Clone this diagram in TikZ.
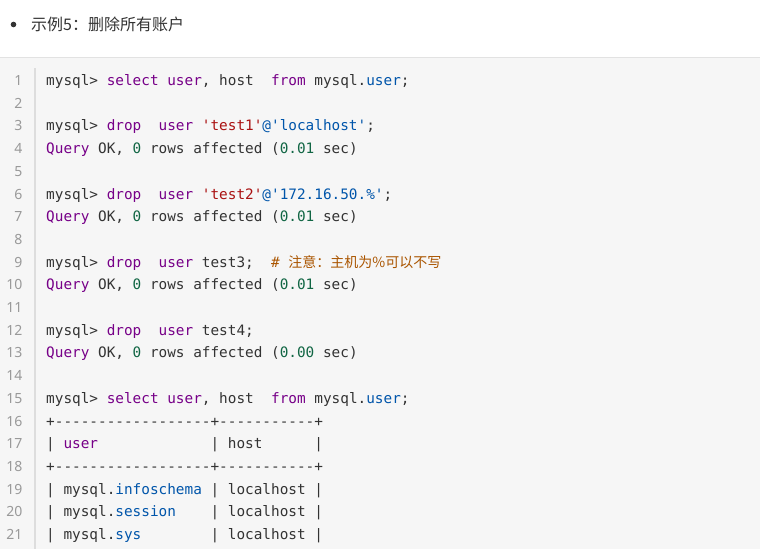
\documentclass[tikz,border=0pt]{standalone}
\usepackage{fontspec}
\setmonofont{DejaVu Sans Mono}
\newfontfamily\cjkfont{Noto Sans CJK SC}
\newfontfamily\lnfont{Noto Sans}
\definecolor{txt}{HTML}{333333}
\definecolor{kw}{HTML}{770088}
\definecolor{strc}{HTML}{AA1111}
\definecolor{varc}{HTML}{0055AA}
\definecolor{numc}{HTML}{116644}
\definecolor{cmtc}{HTML}{AA5500}
\definecolor{lnc}{HTML}{999999}
\definecolor{bgc}{HTML}{F6F6F6}
\definecolor{rulec}{HTML}{E2E2E2}
\definecolor{gutc}{HTML}{DDDDDD}
\newlength\cw
\setlength\cw{8.652pt}
\newcommand\sps[1]{\hspace*{#1\cw}}
\newcommand\kwd[1]{\textcolor{kw}{#1}}
\newcommand\strg[1]{\textcolor{strc}{#1}}
\newcommand\vtx[1]{\textcolor{varc}{#1}}
\newcommand\numb[1]{\textcolor{numc}{#1}}
\newcommand\cmnt[1]{\textcolor{cmtc}{#1}}
\newcommand\okline[1]{\kwd{Query}\sps{1}OK,\sps{1}\numb{0}\sps{1}rows\sps{1}affected\sps{1}(\numb{#1}\sps{1}sec)}
\tikzset{
  codeline/.style={anchor=base west, inner sep=0pt, text=txt,
    font=\fontsize{14.37}{17}\selectfont\ttfamily\frenchspacing},
  lnum/.style={anchor=base east, inner sep=0pt, text=lnc,
    font=\fontsize{14}{16}\selectfont\lnfont},
  headline/.style={anchor=base west, inner sep=0pt, text=txt,
    font=\fontsize{16}{19}\selectfont\cjkfont}
}
\begin{document}
\begin{tikzpicture}[x=1pt,y=-1pt]
\useasboundingbox (0,0) rectangle (760,549);
\fill[white] (0,0) rectangle (760,57);
\fill[bgc] (0,57) rectangle (760,549);
\draw[rulec, line width=1pt] (0,57) -- (760,57);
\draw[gutc, line width=1.5pt] (35,68) -- (35,549);
% heading
\fill[txt] (13.5,24.5) circle (2.8);
\node[headline] (head) at (31,30.5) {示例5：删除所有账户};
% line numbers
\foreach \n in {1,...,21}
  \node[lnum] (n\n) at (22.7,{85.5+(\n-1)*22.7}) {\n};
% code
\node[codeline] (l1) at (46,85.5) {mysql>\sps{1}\kwd{select}\sps{1}\kwd{user},\sps{1}host\sps{2}\kwd{from}\sps{1}mysql.\vtx{user};};
\node[codeline] (l3) at (46,130.9) {mysql>\sps{1}\kwd{drop}\sps{2}\kwd{user}\sps{1}\strg{'test1'}\vtx{@'localhost'};};
\node[codeline] (l4) at (46,153.6) {\okline{0.01}};
\node[codeline] (l6) at (46,199) {mysql>\sps{1}\kwd{drop}\sps{2}\kwd{user}\sps{1}\strg{'test2'}\vtx{@'172.16.50.\%'};};
\node[codeline] (l7) at (46,221.7) {\okline{0.01}};
\node[codeline] (l9) at (46,267.1) {mysql>\sps{1}\kwd{drop}\sps{2}\kwd{user}\sps{1}test3;\sps{2}\cmnt{\#\sps{1}{\fontsize{14}{17}\selectfont\cjkfont 注意：主机为\%可以不写}}};
\node[codeline] (l10) at (46,289.8) {\okline{0.01}};
\node[codeline] (l12) at (46,335.2) {mysql>\sps{1}\kwd{drop}\sps{2}\kwd{user}\sps{1}test4;};
\node[codeline] (l13) at (46,357.9) {\okline{0.00}};
\node[codeline] (l15) at (46,403.3) {mysql>\sps{1}\kwd{select}\sps{1}\kwd{user},\sps{1}host\sps{2}\kwd{from}\sps{1}mysql.\vtx{user};};
\node[codeline] (l16) at (46,426) {+------------------+-----------+};
\node[codeline] (l17) at (46,448.7) {|\sps{1}\kwd{user}\sps{13}|\sps{1}host\sps{6}|};
\node[codeline] (l18) at (46,471.4) {+------------------+-----------+};
\node[codeline] (l19) at (46,494.1) {|\sps{1}mysql.\vtx{infoschema}\sps{1}|\sps{1}localhost\sps{1}|};
\node[codeline] (l20) at (46,516.8) {|\sps{1}mysql.\vtx{session}\sps{4}|\sps{1}localhost\sps{1}|};
\node[codeline] (l21) at (46,539.5) {|\sps{1}mysql.\vtx{sys}\sps{8}|\sps{1}localhost\sps{1}|};
\end{tikzpicture}
\end{document}
